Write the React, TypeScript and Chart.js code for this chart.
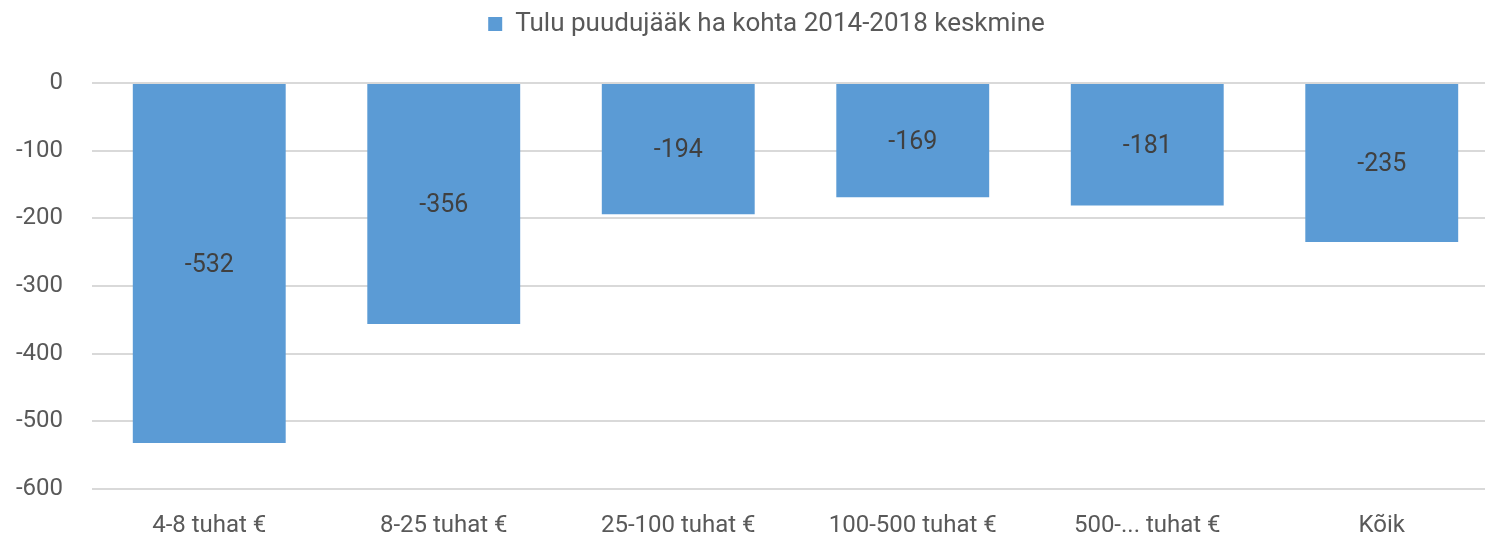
import React, { useEffect, useRef } from "react";
import { Chart, registerables } from "chart.js";

Chart.register(...registerables);

const categories = ["4-8 tuhat €", "8-25 tuhat €", "25-100 tuhat €", "100-500 tuhat €", "500-... tuhat €", "Kõik"];
const seriesLabel = "Tulu puudujääk ha kohta 2014-2018 keskmine";
const values = [-532, -356, -194, -169, -181, -235];
const yMin = -600;
const yMax = 0;
const yStep = 100;

const FONT = "Roboto";

const labelPlugin = {
  id: "barLabels",
  afterDatasetsDraw(chart: any) {
    const ctx = chart.ctx;
    const meta = chart.getDatasetMeta(0);
    ctx.save();
    ctx.font = `25px ${FONT}`;
    ctx.fillStyle = "#404040";
    ctx.textAlign = "center";
    ctx.textBaseline = "middle";
    meta.data.forEach((bar: any, i: number) => {
      const y = (bar.y + bar.base) / 2;
      ctx.fillText(String(values[i]), bar.x, y + 2);
    });
    ctx.restore();
  },
};

const legendSpacePlugin = {
  id: "legendSpace",
  beforeInit(chart: any) {
    const lg = chart.legend;
    if (!lg) return;
    const orig = lg.fit.bind(lg);
    lg.fit = function () {
      orig();
      this.height = 83;
    };
  },
  afterLayout(chart: any) {
    const lg = chart.legend;
    if (!lg) return;
    lg.left += 17;
    lg.right += 17;
  },
};

export default function App() {
  const ref = useRef<HTMLCanvasElement | null>(null);
  useEffect(() => {
    if (!ref.current) return;
    const chart = new Chart(ref.current, {
      type: "bar",
      data: {
        labels: categories,
        datasets: [
          {
            label: seriesLabel,
            data: values,
            backgroundColor: "#5B9BD5",
            borderWidth: 0,
            categoryPercentage: 0.652,
            barPercentage: 1,
          },
        ],
      },
      options: {
        animation: false,
        responsive: false,
        maintainAspectRatio: false,
        layout: { padding: { left: 0, right: 1, top: 0, bottom: 0 } },
        plugins: {
          legend: {
            position: "top",
            labels: {
              font: { family: FONT, size: 26 },
              color: "#595959",
              boxWidth: 14,
              boxHeight: 14,
              padding: 11,
            },
          },
          tooltip: { enabled: false },
        },
        scales: {
          x: {
            grid: { display: false, drawTicks: false },
            border: { display: false },
            ticks: {
              font: { family: FONT, size: 24 },
              color: "#595959",
              padding: 23,
              maxRotation: 0,
            },
            afterFit: (s: any) => {
              s.height = 51;
            },
          },
          y: {
            min: yMin,
            max: yMax,
            grid: { color: "#D9D9D9", lineWidth: 2, drawTicks: false },
            border: { display: false },
            ticks: {
              stepSize: yStep,
              font: { family: FONT, size: 24 },
              color: "#595959",
              padding: 29,
            },
            afterFit: (s: any) => {
              s.width = 92;
            },
          },
        },
      },
      plugins: [legendSpacePlugin, labelPlugin],
    });
    return () => chart.destroy();
  }, []);
  return (
    <div style={{ position: "absolute", left: 0, top: 0, width: 1485, height: 540, overflow: "hidden", background: "#fff" }}>
      <canvas ref={ref} width={1500} height={540} />
    </div>
  );
}
